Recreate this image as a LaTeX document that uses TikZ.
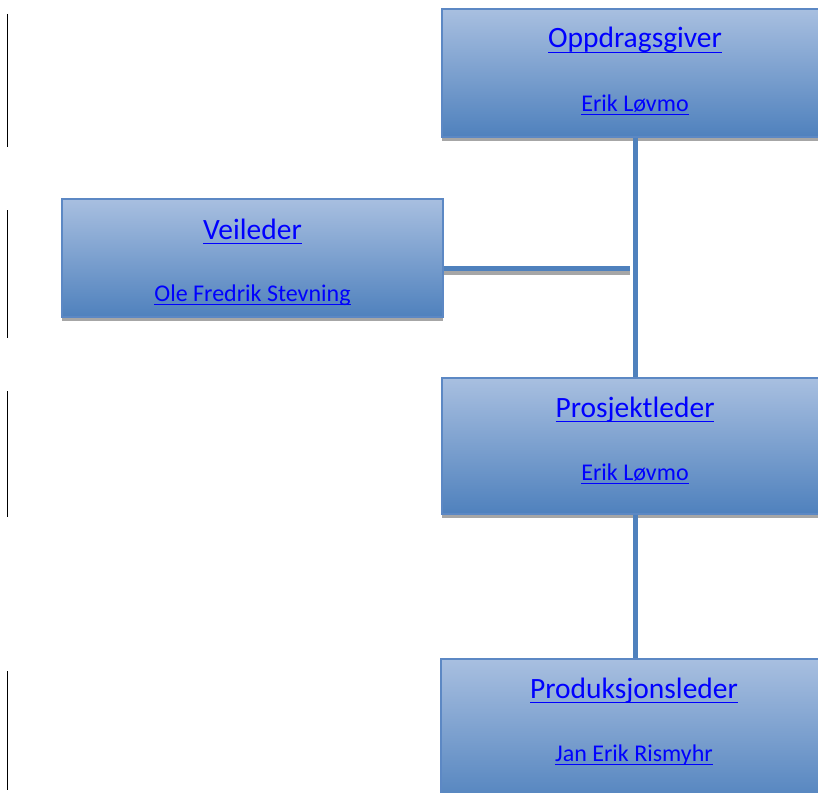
\documentclass[tikz,border=0pt]{standalone}
\usepackage{fontspec}
\setmainfont{Carlito}
\usetikzlibrary{positioning}
\definecolor{boxtop}{RGB}{168,191,224}
\definecolor{boxmid}{RGB}{145,172,212}
\definecolor{boxbot}{RGB}{79,129,189}
\definecolor{boxline}{RGB}{92,136,196}
\definecolor{linkblue}{RGB}{0,0,255}
\definecolor{connblue}{RGB}{79,129,189}
% underlined link text: #1 = rule offset below the baseline
\newcommand{\lnk}[2]{\setbox0=\hbox{#2}\rlap{\rule[-#1]{\wd0}{1.2pt}}\box0}

\begin{document}
\begin{tikzpicture}[x=1pt,y=-1pt]
        \useasboundingbox (0,0) rectangle (818,792);
        % margin bars
        \foreach \ya/\yb in {14/147, 210/338, 391/517, 671/790}
                \draw[black, line width=1.8pt] (7.5,\ya) -- (7.5,\yb);
        \begin{scope}[every node/.style={draw=boxline, line width=1.2pt, rectangle, inner sep=0, minimum width=386, shading=axis, top color=boxtop, middle color=boxmid, bottom color=boxbot, preaction={fill=black!35, transform canvas={yshift=-4pt}}}]
                \node[minimum height=128] (Opd) at (635,73) {};
                \node[minimum width=381, minimum height=118] (Vei) at (252.5,258) {};
                \node[minimum height=136] (Prj) at (635,446) {};
                \node[minimum height=150] (Prod) at (634,734) {};
        \end{scope}
        \begin{scope}[every node/.style={text=linkblue, inner sep=0, anchor=base, font=\fontsize{29.5}{31}\selectfont}]
                \node (OpdT) at (635,48) {\lnk{4.8pt}{Oppdragsgiver}};
                \node (VeiT) at (252.5,239) {\lnk{4.8pt}{Veileder}};
                \node (PrjT) at (635,417) {\lnk{4.8pt}{Prosjektleder}};
                \node (ProdT) at (634,698) {\lnk{4.8pt}{Produksjonsleder}};
        \end{scope}
        \begin{scope}[every node/.style={text=linkblue, inner sep=0, anchor=base, font=\fontsize{24}{26}\selectfont}]
                \node (OpdN) at (635,111) {\lnk{4.2pt}{Erik Løvmo}};
                \node (VeiN) at (252.5,301) {\lnk{4.2pt}{Ole Fredrik Stevning}};
                \node (PrjN) at (635,480) {\lnk{4.2pt}{Erik Løvmo}};
                \node (ProdN) at (634,761) {\lnk{4.2pt}{Jan Erik Rismyhr}};
        \end{scope}
        \coordinate (J) at (630,268);
        \begin{scope}[every path/.style={line width=5pt, connblue}]
                \draw[black!35] ([yshift=-4pt]Vei.east |- J) -- ([yshift=-4pt]J);
                \draw (Vei.east |- J) -- (J);
                \draw (Opd.south) -- (Prj.north);
                \draw (Prj.south) -- (Prj.south |- Prod.north);
        \end{scope}
\end{tikzpicture}
\end{document}
